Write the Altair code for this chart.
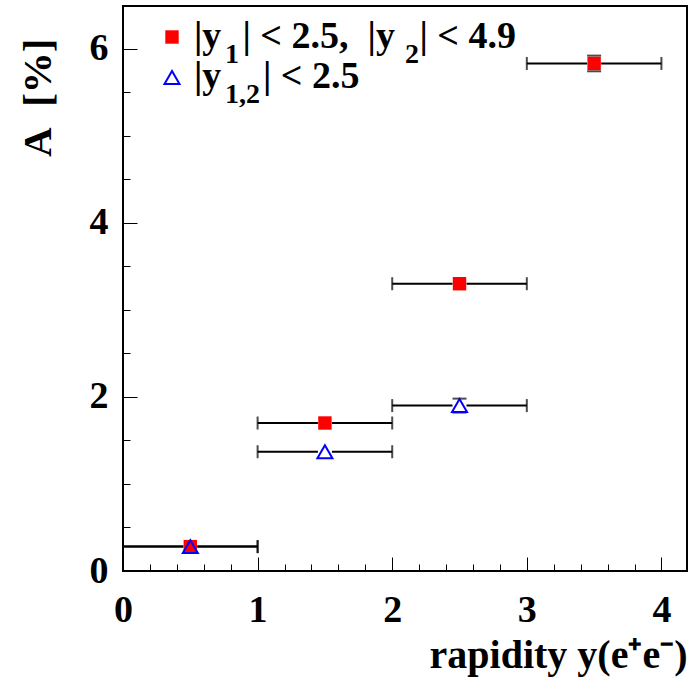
import altair as alt
import pandas as pd

# ---- data ----
x_center = [0.5, 1.5, 2.5, 3.5]
x_halfwidth = [0.5, 0.5, 0.5, 0.5]
red_y = [0.28, 1.70, 3.30, 5.83]
red_yerr = [0.0, 0.0, 0.0, 0.09]
blue_y = [0.28, 1.37, 1.90]
blue_yerr = [0.0, 0.0, 0.08]

# legend texts, split into normal-size and subscript pieces
leg_pieces = ["|y", "1", "| < 2.5, \u00a0|y", "2", "| < 4.9",
              "|y", "1,2", "| < 2.5"]
leg_is_sub = [False, True, False, True, False, False, True, False]
leg_line = [1, 1, 1, 1, 1, 2, 2, 2]

x_major = [0, 1, 2, 3, 4]
x_minor = [0.2, 0.4, 0.6, 0.8, 1.2, 1.4, 1.6, 1.8, 2.2, 2.4, 2.6, 2.8,
           3.2, 3.4, 3.6, 3.8, 4.2]
y_major = [0, 2, 4, 6]
y_minor = [0.5, 1, 1.5, 2.5, 3, 3.5, 4.5, 5, 5.5, 6.5]

FONT = "Liberation Serif"
W, H = 564, 565

rows = []
for xc, hw, yv, ye in zip(x_center, x_halfwidth, red_y, red_yerr):
    rows.append(dict(series="red", x=xc, xlo=xc - hw, xhi=xc + hw, y=yv,
                     ylo=yv - ye, yhi=yv + ye, yerr=ye))
for xc, hw, yv, ye in zip(x_center, x_halfwidth, blue_y, blue_yerr):
    rows.append(dict(series="blue", x=xc, xlo=xc - hw, xhi=xc + hw, y=yv,
                     ylo=yv - ye, yhi=yv + ye, yerr=ye))
df = pd.DataFrame(rows)

xs = alt.Scale(domain=[0, 4.19], nice=False, zero=False)
ys = alt.Scale(domain=[0, 6.49], nice=False, zero=False)

base = alt.Chart(df)

# axes layers
ax_main = base.mark_point(opacity=0).encode(
    x=alt.X("x:Q", scale=xs, axis=alt.Axis(
        orient="bottom", values=x_major, ticks=False, domain=False, grid=False,
        labelFont=FONT, labelFontWeight="bold", labelFontSize=38, labelColor="black",
        labelPadding=20, labelBaseline="top", labelFlush=False,
        title="rapidity y(e\u207ae\u207b)", titleFont=FONT, titleFontWeight="bold",
        titleFontSize=40, titleColor="black", titleAnchor="end", titleAlign="right",
        titleBaseline="alphabetic", titleX=W, titleY=96)),
    y=alt.Y("y:Q", scale=ys, axis=alt.Axis(
        orient="left", values=y_major, ticks=False, domain=False, grid=False,
        labelFont=FONT, labelFontWeight="bold", labelFontSize=38, labelColor="black",
        labelPadding=15, labelFlush=False,
        title="A\u00a0\u00a0[%]", titleFont=FONT, titleFontWeight="bold", titleFontSize=41,
        titleColor="black", titleAngle=-90, titleAlign="right",
        titleBaseline="alphabetic", titleX=-73, titleY=32)),
)

def tick_layer(xv, yv, size):
    return base.mark_point(opacity=0).encode(
        x=alt.X("x:Q", scale=xs, axis=alt.Axis(
            orient="top", offset=-H, values=xv, ticks=True, tickSize=size,
            tickColor="black", tickWidth=1, labels=False, domain=False, grid=False,
            title=None)),
        y=alt.Y("y:Q", scale=ys, axis=alt.Axis(
            orient="right", offset=-W, values=yv, ticks=True, tickSize=size,
            tickColor="black", tickWidth=1, labels=False, domain=False, grid=False,
            title=None)),
    )

ax_major = tick_layer(x_major, y_major, 14)
ax_minor = tick_layer(x_minor, y_minor, 7)

X = lambda f: alt.X(f, scale=xs, axis=None)
Y = lambda f: alt.Y(f, scale=ys, axis=None)

hleft = base.mark_rule(color="black", strokeWidth=2, x2Offset=-7).encode(
    x=X("xlo:Q"), x2="x:Q", y=Y("y:Q"))
hright = base.mark_rule(color="black", strokeWidth=2, xOffset=7).encode(
    x=X("x:Q"), x2="xhi:Q", y=Y("y:Q"))
caps_lo = base.mark_tick(orient="vertical", color="black", size=13, thickness=2).encode(
    x=X("xlo:Q"), y=Y("y:Q"))
caps_hi = base.mark_tick(orient="vertical", color="black", size=13, thickness=2).encode(
    x=X("xhi:Q"), y=Y("y:Q"))

verr = base.transform_filter("datum.yerr > 0")
vcap_hi = verr.mark_tick(orient="horizontal", color="black", size=14, thickness=2).encode(
    x=X("x:Q"), y=Y("yhi:Q"))
vcap_lo = verr.mark_tick(orient="horizontal", color="black", size=14, thickness=2).encode(
    x=X("x:Q"), y=Y("ylo:Q"))

red_pts = base.transform_filter("datum.series == 'red'").mark_square(
    size=180, color="#ff0000", opacity=1).encode(x=X("x:Q"), y=Y("y:Q"))
blue_pts = base.transform_filter("datum.series == 'blue'").mark_point(
    shape="triangle-up", size=225, filled=False, stroke="#0000ff", strokeWidth=2,
    opacity=1).encode(x=X("x:Q"), y=Y("y:Q"))

# legend (inside the frame, top-left) -- layout positions in pixels
leg_px = [71, 102, 119.5, 282, 296.5, 71, 102, 140]
leg_py = []
for ln, sub in zip(leg_line, leg_is_sub):
    b = 42 if ln == 1 else 82
    leg_py.append(b + 15 if sub else b)
leg = pd.DataFrame({"text": leg_pieces, "sub": leg_is_sub, "px": leg_px, "py": leg_py})
lbase = alt.Chart(leg)
leg_sq = alt.Chart(pd.DataFrame({"s": ["red"]})).mark_square(
    size=180, color="#ff0000", opacity=1).encode(x=alt.value(49), y=alt.value(31))
leg_tri = alt.Chart(pd.DataFrame({"s": ["blue"]})).mark_point(
    shape="triangle-up", size=225, filled=False, stroke="#0000ff", strokeWidth=2,
    opacity=1).encode(x=alt.value(49), y=alt.value(71.5))
leg_main = lbase.transform_filter("!datum.sub").mark_text(
    font=FONT, fontWeight="bold", fontSize=38, align="left", baseline="alphabetic",
    color="black").encode(text="text:N", x=alt.X("px:Q", scale=None, axis=None),
                          y=alt.Y("py:Q", scale=None, axis=None))
leg_sub = lbase.transform_filter("datum.sub").mark_text(
    font=FONT, fontWeight="bold", fontSize=28, align="left", baseline="alphabetic",
    color="black").encode(text="text:N", x=alt.X("px:Q", scale=None, axis=None),
                          y=alt.Y("py:Q", scale=None, axis=None))

chart = alt.layer(
    ax_main, ax_major, ax_minor,
    hleft, hright, caps_lo, caps_hi, vcap_hi, vcap_lo,
    red_pts, blue_pts,
    leg_sq, leg_tri, leg_main, leg_sub,
).resolve_axis(x="independent", y="independent").resolve_scale(
    x="shared", y="shared").properties(
    width=W, height=H,
    padding={"left": 123, "top": 6, "right": 10, "bottom": 109},
    autosize=alt.AutoSizeParams(type="none"),
    background="white",
).configure_view(stroke="black", strokeWidth=2)

chart.save("out.html", embed_options={"renderer": "svg", "actions": False})
